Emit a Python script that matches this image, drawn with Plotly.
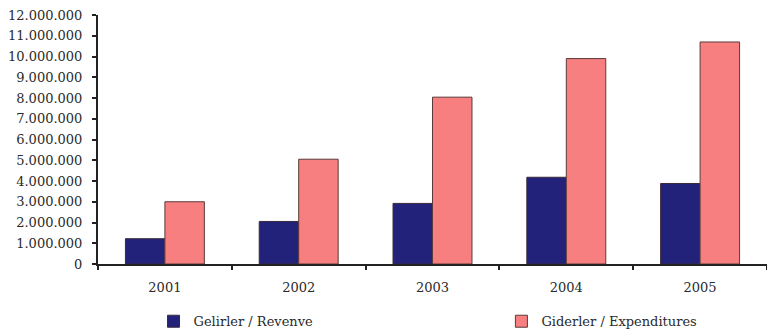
import plotly.graph_objects as go

years = ["2001", "2002", "2003", "2004", "2005"]
revenue = [1220000, 2050000, 2920000, 4180000, 3880000]
expenditures = [3000000, 5050000, 8040000, 9900000, 10700000]
y_ticks = list(range(0, 12000001, 1000000))

navy = "#22227a"
pink = "#f77f7f"
text_color = "#2a2a2a"
serif = "DejaVu Serif"

fig = go.Figure()
fig.add_trace(go.Bar(
    x=years, y=revenue, name="Gelirler / Revenve",
    marker=dict(color=navy, line=dict(color="#3a2a3a", width=1)),
    legend="legend",
))
fig.add_trace(go.Bar(
    x=years, y=expenditures, name="Giderler / Expenditures",
    marker=dict(color=pink, line=dict(color="#5a3a3a", width=1)),
    legend="legend2",
))

legend_style = dict(
    orientation="h", yanchor="middle", y=-0.23, xanchor="left",
    font=dict(family=serif, size=13, color=text_color),
    bgcolor="rgba(0,0,0,0)", itemwidth=30,
)

fig.update_layout(
    width=767, height=336,
    margin=dict(l=98, r=0, t=15, b=72, autoexpand=False),
    paper_bgcolor="white", plot_bgcolor="white",
    barmode="group", bargap=0.41, bargroupgap=0,
    separators=",.",
    font=dict(family=serif, size=13, color=text_color),
    showlegend=True,
    legend=dict(x=0.083, **legend_style),
    legend2=dict(x=0.603, **legend_style),
    xaxis=dict(
        showline=True, linecolor="#222", linewidth=2,
        ticks="outside", tickson="boundaries", ticklen=4, tickcolor="#222",
        tickwidth=2, showgrid=False, ticklabelstandoff=10,
        tickfont=dict(family=serif, size=13, color=text_color),
    ),
    yaxis=dict(
        range=[0, 12000000], tickvals=y_ticks, tickformat=",d",
        showline=True, linecolor="#222", linewidth=2,
        ticks="outside", ticklen=4, tickcolor="#222", tickwidth=2,
        showgrid=False, zeroline=False, ticklabelstandoff=7,
        tickfont=dict(family=serif, size=13, color=text_color),
    ),
)

fig.write_html("out.html")
